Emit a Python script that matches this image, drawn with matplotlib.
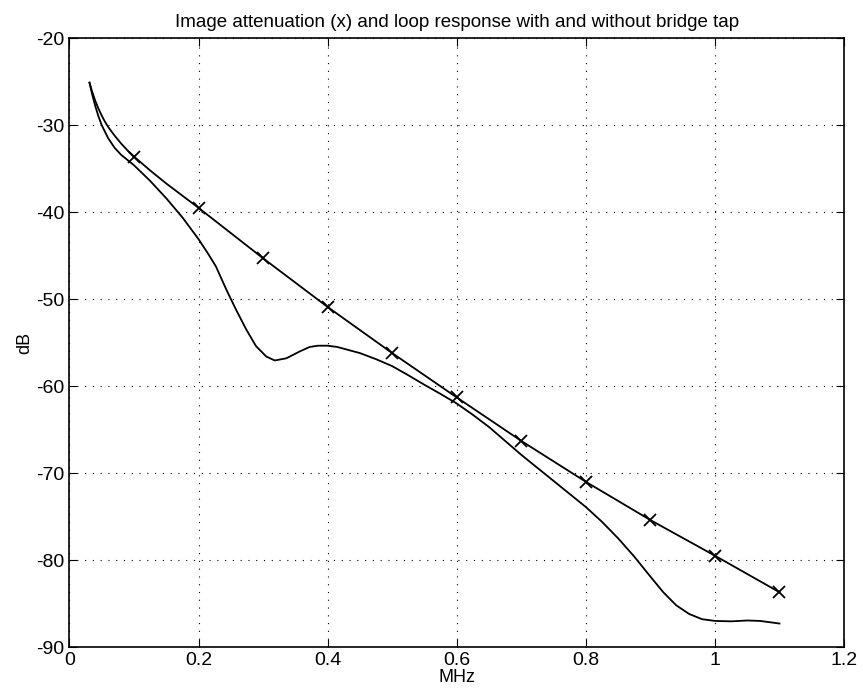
import numpy as np
import matplotlib.pyplot as plt

plt.rcParams['font.family'] = ['Liberation Sans', 'DejaVu Sans']
plt.rcParams['axes.unicode_minus'] = False

# image attenuation (line with x markers every 0.1 MHz)
att_freq = [0.031, 0.035, 0.04, 0.045, 0.05, 0.055, 0.06, 0.07, 0.08, 0.09,
            0.1, 0.125, 0.15, 0.175, 0.2, 0.3, 0.4, 0.5, 0.6, 0.7, 0.8, 0.9,
            1.0, 1.1]
att_db = [-25.1, -26.1, -27.2, -28.1, -28.9, -29.6, -30.2, -31.2, -32.1, -32.9,
          -33.6, -35.2, -36.7, -38.1, -39.5, -45.3, -50.9, -56.2, -61.3, -66.3,
          -71.0, -75.4, -79.5, -83.7]
marked = [0.1, 0.2, 0.3, 0.4, 0.5, 0.6, 0.7, 0.8, 0.9, 1.0, 1.1]

# loop response with bridge tap
tap_freq = [0.031, 0.035, 0.04, 0.045, 0.05, 0.06, 0.07, 0.08, 0.1, 0.125,
            0.15, 0.175, 0.2, 0.215, 0.227, 0.243, 0.258, 0.274, 0.289, 0.305,
            0.318, 0.336, 0.357, 0.372, 0.385, 0.4, 0.415, 0.43, 0.45, 0.475,
            0.5, 0.525, 0.55, 0.575, 0.6, 0.625, 0.65, 0.675, 0.7, 0.725, 0.75,
            0.775, 0.8, 0.825, 0.85, 0.875, 0.9, 0.92, 0.94, 0.96, 0.98, 1.0,
            1.025, 1.05, 1.07, 1.09, 1.1]
tap_db = [-25.1, -26.4, -27.8, -29.0, -30.0, -31.5, -32.6, -33.4, -34.6, -36.4,
          -38.4, -40.6, -43.1, -44.8, -46.25, -48.9, -51.2, -53.5, -55.4, -56.6,
          -57.05, -56.8, -56.0, -55.5, -55.35, -55.35, -55.5, -55.8, -56.2, -56.9,
          -57.7, -58.75, -59.85, -60.9, -62.0, -63.3, -64.7, -66.3, -67.9, -69.4,
          -70.9, -72.4, -73.9, -75.6, -77.5, -79.6, -81.9, -83.7, -85.2, -86.2,
          -86.8, -87.0, -87.05, -86.95, -87.0, -87.2, -87.3]

fig = plt.figure(figsize=(8.63, 7.0), dpi=100)
ax = fig.add_axes([0.0805, 0.0757, 0.8975, 0.8696])

mark_idx = [att_freq.index(f) for f in marked]
ax.plot(tap_freq, tap_db, color='black', lw=1.3)
ax.plot(att_freq, att_db, color='black', lw=1.3, marker='x', markersize=9,
        markeredgewidth=1.3, markevery=mark_idx)

ax.set_xlim(0, 1.2)
ax.set_ylim(-90, -20)
ax.set_xticks(np.arange(0, 1.21, 0.2))
ax.set_xticklabels(['0', '0.2', '0.4', '0.6', '0.8', '1', '1.2'])
ax.set_yticks(np.arange(-90, -19, 10))
ax.grid(True, color='black', linestyle=(0, (1, 6)), linewidth=0.8)
ax.tick_params(direction='in', top=True, right=True, length=6, labelsize=14)
for s in ax.spines.values():
    s.set_linewidth(1.2)

ax.set_xlabel('MHz', fontsize=13, labelpad=0)
ax.set_ylabel('dB', fontsize=13, labelpad=2)
ax.set_title('Image attenuation (x) and loop response with and without bridge tap',
             fontsize=13.5, pad=8)

fig.savefig('out.png', dpi=100)
